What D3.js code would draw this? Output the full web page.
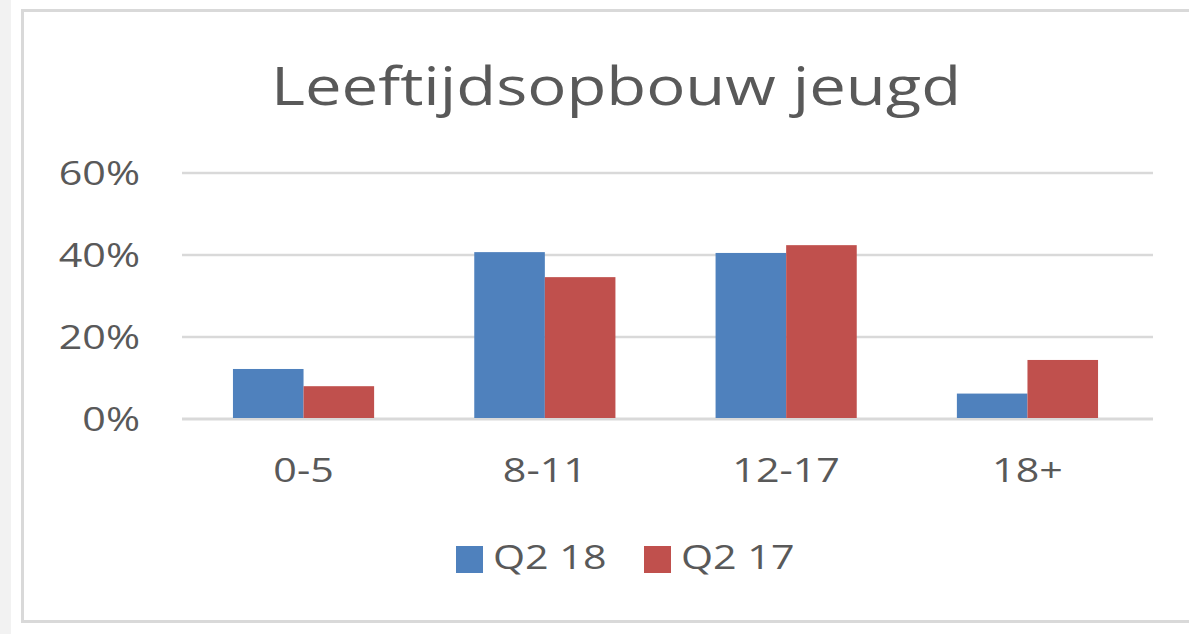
<!DOCTYPE html>
<html>
<head>
<meta charset="utf-8">
<script src="https://cdn.jsdelivr.net/npm/d3@7"></script>
<style>
  body { margin: 0; background: #fff; }
  svg { display: block; }
  text { font-family: "Open Sans", "Liberation Sans", sans-serif; fill: #595959; }
</style>
</head>
<body>
<div id="chart"></div>
<script>
// data
const categories = ["0-5", "8-11", "12-17", "18+"];
const seriesNames = ["Q2 18", "Q2 17"];
const q2_18 = [0.122, 0.407, 0.405, 0.062];
const q2_17 = [0.080, 0.346, 0.424, 0.144];
const yTicks = [0, 0.2, 0.4, 0.6];

const colors = { "Q2 18": "#4f81bd", "Q2 17": "#c0504d" };

const width = 1189, height = 634;
// the reference text looks stretched sideways
const stretch = 1.25;

const svg = d3.select("#chart")
  .append("svg")
  .attr("width", width)
  .attr("height", height);

// light grey strip on the left edge
svg.append("rect")
  .attr("x", 0).attr("y", 0)
  .attr("width", 11).attr("height", height)
  .attr("fill", "#f2f2f2");

// chart frame
svg.append("rect")
  .attr("x", 22.5).attr("y", 10.5)
  .attr("width", 1180).attr("height", 611)
  .attr("fill", "#fff")
  .attr("stroke", "#d9d9d9")
  .attr("stroke-width", 3);

// title
svg.append("text")
  .attr("transform", `translate(616,105) scale(1.23,1)`)
  .attr("text-anchor", "middle")
  .attr("font-size", "53px")
  .text("Leeftijdsopbouw jeugd");

const x0 = d3.scaleBand()
  .domain(categories)
  .range([183, 1148])
  .paddingInner(0.415)
  .paddingOuter(0.207);

const x1 = d3.scaleBand()
  .domain(seriesNames)
  .range([0, x0.bandwidth()]);

const y = d3.scaleLinear()
  .domain([0, 0.6])
  .range([419, 173]);

// gridlines
svg.append("g")
  .selectAll("line")
  .data(yTicks)
  .join("line")
  .attr("x1", 182)
  .attr("x2", 1153)
  .attr("y1", d => y(d))
  .attr("y2", d => y(d))
  .attr("stroke", "#d9d9d9")
  .attr("stroke-width", d => d === 0 ? 3 : 2.5);

// y labels
svg.append("g")
  .selectAll("text")
  .data(yTicks)
  .join("text")
  .attr("transform", d => `translate(140,${y(d) + 12}) scale(${stretch},1)`)
  .attr("text-anchor", "end")
  .attr("font-size", "33px")
  .text(d => d3.format(".0%")(d));

// bars
const rows = categories.map((c, i) => ({ cat: c, values: [
  { name: "Q2 18", v: q2_18[i] },
  { name: "Q2 17", v: q2_17[i] }
] }));

const groups = svg.append("g")
  .selectAll("g")
  .data(rows)
  .join("g")
  .attr("transform", d => `translate(${x0(d.cat)},0)`);

groups.selectAll("rect")
  .data(d => d.values)
  .join("rect")
  .attr("x", d => x1(d.name))
  .attr("y", d => y(d.v))
  .attr("width", x1.bandwidth())
  .attr("height", d => y(0) - y(d.v) - 1)
  .attr("fill", d => colors[d.name]);

// x labels
svg.append("g")
  .selectAll("text")
  .data(categories)
  .join("text")
  .attr("transform", d => `translate(${x0(d) + x0.bandwidth() / 2},482) scale(${stretch},1)`)
  .attr("text-anchor", "middle")
  .attr("font-size", "33px")
  .text(d => d);

// legend
const legendX = [456, 644];
const legend = svg.append("g")
  .selectAll("g")
  .data(seriesNames)
  .join("g")
  .attr("transform", (d, i) => `translate(${legendX[i]},546)`);

legend.append("rect")
  .attr("width", 27)
  .attr("height", 27)
  .attr("fill", d => colors[d]);

legend.append("text")
  .attr("transform", `translate(37,23) scale(${stretch},1)`)
  .attr("font-size", "33px")
  .text(d => d);
</script>
</body>
</html>
